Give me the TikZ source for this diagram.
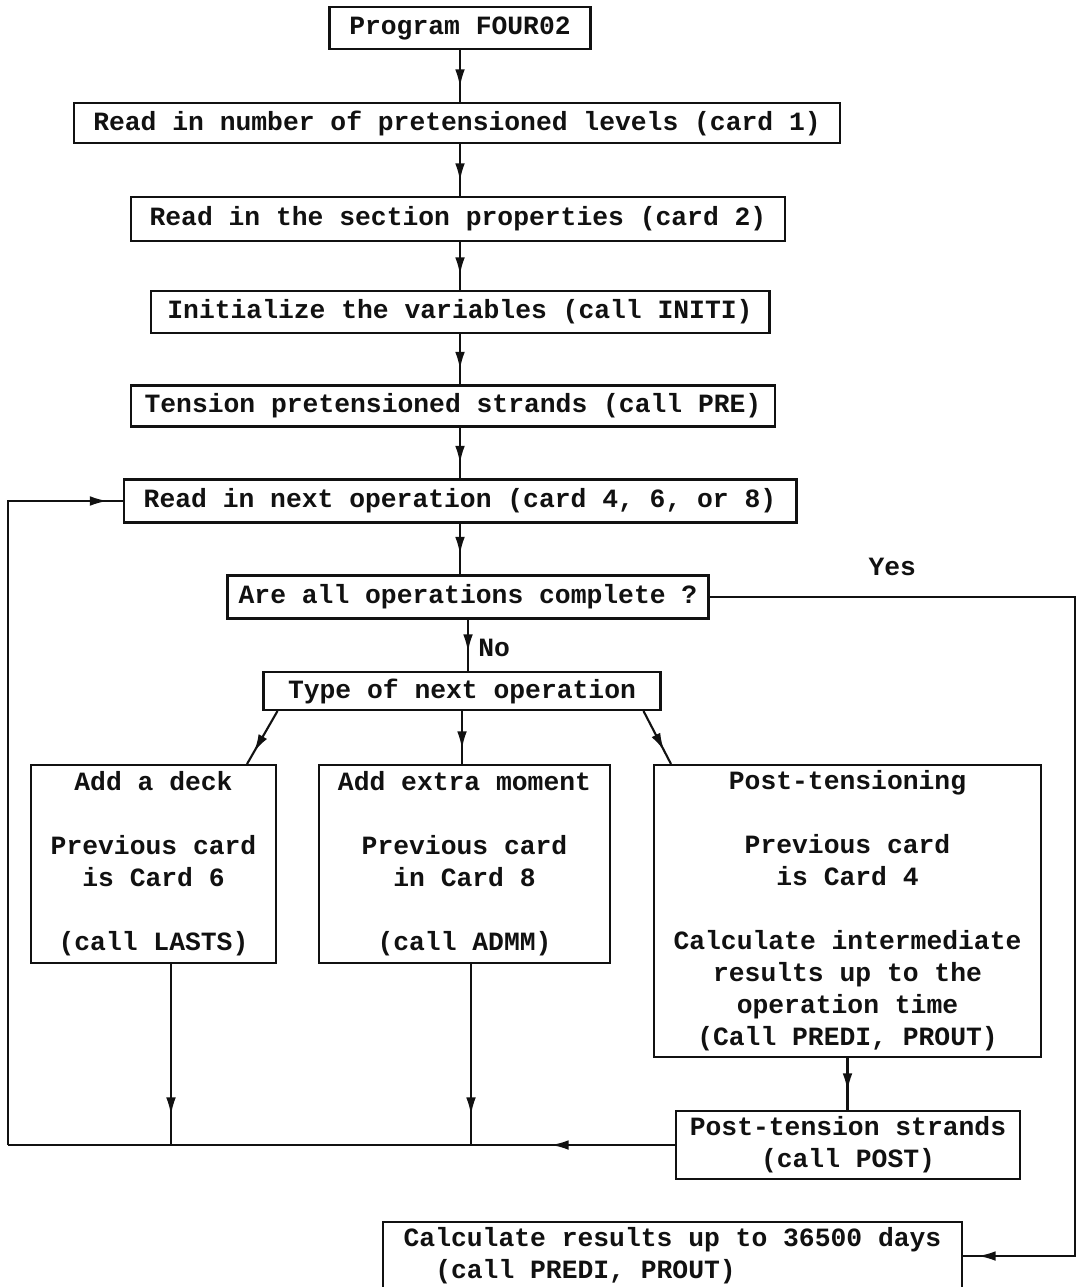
\documentclass[tikz,border=0pt]{standalone}
\usepackage{fontspec}
\setmonofont{Liberation Mono}
\usetikzlibrary{arrows.meta,decorations.markings}
\definecolor{Paper}{HTML}{FFFFFF}
\definecolor{Ink}{HTML}{111111}

\begin{document}
\begin{tikzpicture}[x=0.02cm,y=-0.02cm,every node/.style={font=\ttfamily\bfseries\fontsize{15}{18.2}\selectfont,text=Ink},box/.style={draw=Ink,line width=1.2pt,inner sep=0pt,align=center},flow/.style={draw=Ink,line width=1.2pt,postaction={decorate},decoration={markings,mark=at position #1 with {\arrow{Latex[length=10pt,width=5.5pt]}}}},flow/.default=-0.3cm]
\useasboundingbox (0,0) rectangle (1077,1287);
\fill[Paper] (0,0) rectangle (1077,1287);
\clip (0,0) rectangle (1077,1287);
% main column
\node[box,minimum width=5.22cm,minimum height=0.84cm] (prog) at (460,28) {Program FOUR02};
\node[box,minimum width=15.32cm,minimum height=0.8cm] (card1) at (457,123) {Read in number of pretensioned levels (card 1)};
\node[box,minimum width=13.08cm,minimum height=0.88cm] (card2) at (458,219) {Read in the section properties (card 2)};
\node[box,minimum width=12.38cm,minimum height=0.84cm] (initi) at (460,312) {Initialize the variables (call INITI)};
\node[box,minimum width=12.88cm,minimum height=0.82cm] (pre) at (453,406) {Tension pretensioned strands (call PRE)};
\node[box,minimum width=13.46cm,minimum height=0.86cm] (readnext) at (460,501) {Read in next operation (card 4, 6, or 8)};
\node[box,minimum width=9.62cm,minimum height=0.86cm] (complete) at (468,597) {Are all operations complete ?};
\node[box,minimum width=7.94cm,minimum height=0.76cm] (optype) at (462,691) {Type of next operation};
% the three kinds of operation
\node[box,minimum width=4.9cm,minimum height=3.96cm] (deck) at (153.5,864) {Add a deck\\[\baselineskip]Previous card\\is Card 6\\[\baselineskip](call LASTS)};
\node[box,minimum width=5.82cm,minimum height=3.96cm] (moment) at (464.5,864) {Add extra moment\\[\baselineskip]Previous card\\in Card 8\\[\baselineskip](call ADMM)};
\node[box,minimum width=7.74cm,minimum height=5.84cm] (posttens) at (847.5,911) {Post-tensioning\\[\baselineskip]Previous card\\is Card 4\\[\baselineskip]Calculate intermediate\\results up to the\\operation time\\(Call PREDI, PROUT)};
\node[box,minimum width=6.88cm,minimum height=1.36cm] (strands) at (848,1145) {Post-tension strands\\(call POST)};
\node[box,align=left,minimum width=11.58cm,minimum height=1.36cm] (calc) at (672.5,1256) {Calculate results up to 36500 days\\\phantom{xx}(call PREDI, PROUT)};
\coordinate (loopB) at (8,1145);
\coordinate (yesR) at (1075,597);
% connectors
\draw[flow] (prog.south) -- (prog.south |- card1.north);
\draw[flow] (prog.south |- card1.south) -- (prog.south |- card2.north);
\draw[flow] (prog.south |- card2.south) -- (prog.south |- initi.north);
\draw[flow] (prog.south |- initi.south) -- (prog.south |- pre.north);
\draw[flow] (prog.south |- pre.south) -- (prog.south |- readnext.north);
\draw[flow=-0.4cm] (prog.south |- readnext.south) -- (prog.south |- complete.north);
\draw[flow=-0.38cm] (complete.south) -- node[right=2pt,pos=0.55]{No} (complete.south |- optype.north);
\draw[flow] (complete.east) -- node[above=8pt,pos=0.5]{Yes} (yesR) |- (calc.east);
\draw[flow=-0.28cm] ([xshift=0.3cm]optype.south west) -- ([xshift=-0.6cm]deck.north east);
\draw[flow] (optype.south) -- (optype.south |- moment.north);
\draw[flow] ([xshift=-0.36cm]optype.south east) -- ([xshift=0.36cm]posttens.north west);
\draw[flow=-0.38cm] (posttens.south) -- (posttens.south |- strands.north);
\draw[flow=-0.6cm] ([xshift=0.35cm]deck.south) -- ([xshift=0.35cm]deck.south |- loopB);
\draw[flow=-0.6cm] ([xshift=0.13cm]moment.south) -- ([xshift=0.13cm]moment.south |- loopB);
\draw[flow=2.48cm] (strands.west) -- (loopB);
\draw[flow] (loopB) |- (readnext.west);
\end{tikzpicture}
\end{document}
